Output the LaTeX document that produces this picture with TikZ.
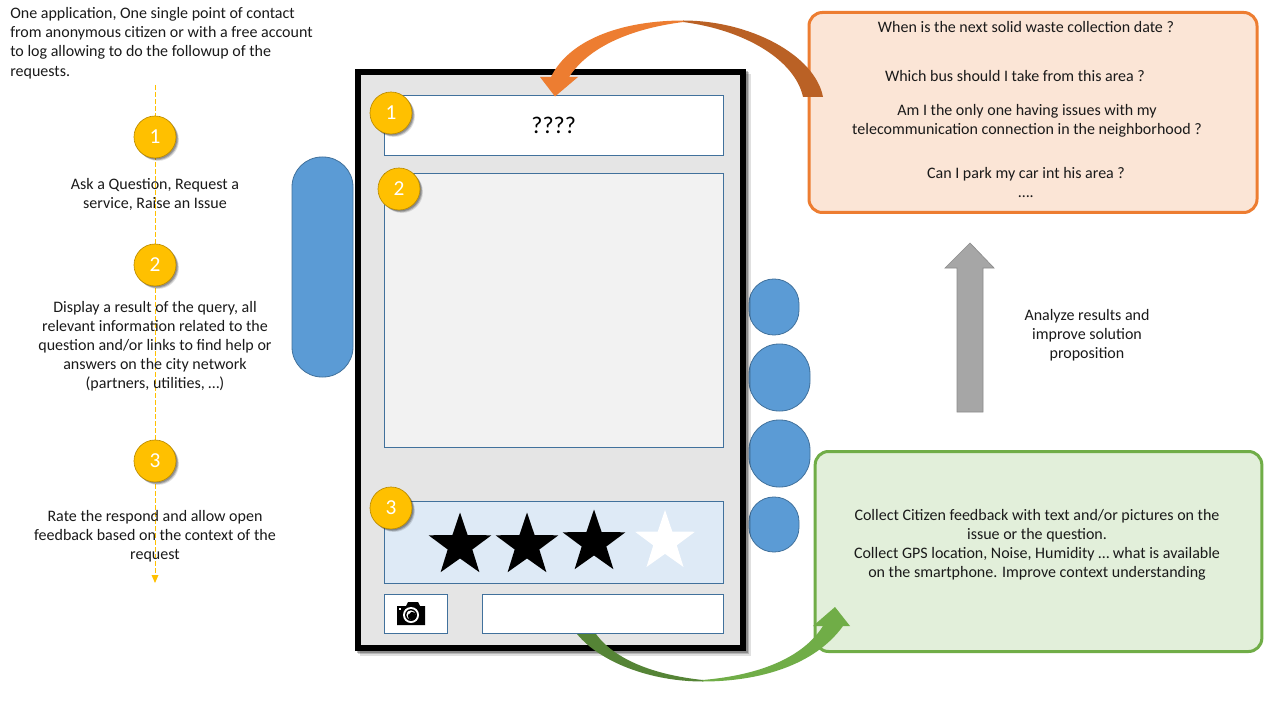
\documentclass[tikz,border=0pt]{standalone}
\usepackage{fontspec}
\setmainfont{Carlito}
\usetikzlibrary{shapes.geometric,shadows,arrows.meta}
\definecolor{orangeline}{HTML}{ED7D31}
\definecolor{orangedark}{HTML}{BA6125}
\definecolor{orangefill}{HTML}{FBE5D6}
\definecolor{greenline}{HTML}{70AD47}
\definecolor{greendark}{HTML}{558436}
\definecolor{greenfill}{HTML}{E2EFDA}
\definecolor{bluefill}{HTML}{5B9BD5}
\definecolor{blueline}{HTML}{41719C}
\definecolor{starbg}{HTML}{DEEAF6}
\definecolor{badge}{HTML}{FFC000}
\definecolor{badgeline}{HTML}{BC8C00}
\definecolor{txt}{HTML}{1A1A1A}
\tikzset{
  softshadow/.style={
    drop shadow={shadow xshift=2.2pt,shadow yshift=-2.2pt,opacity=.12,fill=black},
    drop shadow={shadow xshift=1.6pt,shadow yshift=-1.6pt,opacity=.2,fill=black},
    drop shadow={shadow xshift=1pt,shadow yshift=-1pt,opacity=.2,fill=black}},
  phoneshadow/.style={
    drop shadow={shadow xshift=3.4pt,shadow yshift=-3.4pt,opacity=.12,fill=black},
    drop shadow={shadow xshift=2.6pt,shadow yshift=-2.6pt,opacity=.18,fill=black},
    drop shadow={shadow xshift=1.6pt,shadow yshift=-1.6pt,opacity=.25,fill=black}},
  badgenode/.style={circle,draw=badgeline,line width=.5pt,fill=badge,text=white,minimum size=31.5pt,inner sep=0pt,font=\fontsize{16}{16}\selectfont,softshadow},
  lbl/.style={align=center,text=txt,font=\fontsize{12}{14.25}\selectfont,inner sep=0pt},
  pill/.style={rounded corners=#1,draw=blueline,line width=.6pt,fill=bluefill},
  appbox/.style={draw=blueline,line width=.75pt},
  starshape/.style={star,star points=5,star point ratio=2.55,inner sep=0pt,minimum size=#1*.75pt,fill=black},
}
\begin{document}
\begin{tikzpicture}[x=.75pt,y=-.75pt]
\useasboundingbox (0,0) rectangle (1280,720);
\fill[white] (0,0) rectangle (1280,720);
% dashed timeline
\coordinate (ltop) at (155,85);
\coordinate (lend) at (155,583);
\draw[draw=badge,line width=.6pt,dash pattern=on 3.75pt off 1.5pt] (ltop) -- (155,576);
\fill[badge] (151.5,575) -- (158.5,575) -- (lend) -- cycle;
% left text
\node[lbl,align=left,anchor=north west] (intro) at (10,7.2) {One application, One single point of contact\\from anonymous citizen or with a free account\\to log allowing to do the followup of the\\[.6pt]requests.};
\node[badgenode] (b1) at (155,137) {1};
\node[lbl] (t1) at (155,194.5) {Ask a Question, Request a\\service, Raise an Issue};
\node[badgenode] (b2) at (155,265) {2};
\node[lbl] (t2) at (155,346.5) {Display a result of the query, all\\relevant information related to the\\question and/or links to find help or\\answers on the city network\\(partners, utilities, …)};
\node[badgenode] (b3) at (155,461) {3};
\node[lbl] (t3) at (155,536) {Rate the respond and allow open\\feedback based on the context of the\\request};
% pills
\draw[pill=22.5pt] (292,157) rectangle (353,377);
\draw[pill=18.5pt] (749,279) rectangle (799,335);
\draw[pill=22.5pt] (749,344) rectangle (810,411);
\draw[pill=22.5pt] (749,420) rectangle (810,487);
\draw[pill=18.5pt] (749,497) rectangle (799,552);
% phone
\fill[black,phoneshadow] (355,69) rectangle (746,651);
\fill[black!10] (361,75) rectangle (740,645);
\node[appbox,fill=white,minimum width=254.5pt,minimum height=45pt,inner sep=0pt,font=\fontsize{18}{18}\selectfont] (query) at (553.7,125.8) {????};
\draw[appbox,fill=black!5] (384,174) rectangle (723.5,447);
\draw[appbox,fill=starbg] (384,501.7) rectangle (723.5,583.3);
\draw[appbox,fill=white] (384,594.3) rectangle (447.7,633.3);
\draw[appbox,fill=white] (482,594.3) rectangle (723.5,633.3);
% stars
\node[starshape=66] (s1) at (460,545.5) {};
\node[starshape=66] (s2) at (527,545.5) {};
\node[starshape=66] (s3) at (594,542.5) {};
\node[starshape=63,fill=white] (s4) at (665,541.5) {};
% camera
\fill[black] (397,606) -- (406,606) -- (408,602) -- (418,602) -- (420,606) -- (425,606) -- (425,625) -- (397,625) -- cycle;
\fill[white] (411,615) circle (8);
\fill[black] (411,615) circle (6);
\fill[white] (411,615) circle (4.6);
\fill[black] (412,616) circle (4.2);
\fill[white] (409,612.5) circle (1.6);
\fill[white] (399,607.5) rectangle (401,609.5);
% phone badges
\node[badgenode] (p1) at (391,113) {1};
\node[badgenode] (p2) at (399,189) {2};
\node[badgenode] (p3) at (391,508) {3};
% orange box
\node[draw=orangeline,fill=orangefill,line width=2.25pt,rounded corners=10pt,minimum width=336pt,minimum height=150pt,inner sep=0pt] (qbox) at (1033,112.5) {};
\node[lbl] at (1026,27.5) {When is the next solid waste collection date ?};
\node[lbl] at (1015,76.5) {Which bus should I take from this area ?};
\node[lbl] at (1027,120.5) {Am I the only one having issues with my\\telecommunication connection in the neighborhood ?};
\node[lbl] at (1026,174.5) {Can I park my car int his area ?};
\node[lbl] at (1026,197) {….};
% green box
\node[draw=greenline,fill=greenfill,line width=2.25pt,rounded corners=10pt,minimum width=335pt,minimum height=150pt,inner sep=0pt] (gbox) at (1038.5,551.5) {};
\node[lbl] at (1037,544.5) {Collect Citizen feedback with text and/or pictures on the\\issue or the question.\\Collect GPS location, Noise, Humidity … what is available\\on the smartphone.  Improve context understanding};
% analyse
\node[lbl] at (1087,335.5) {Analyze results and\\improve solution\\proposition};
\draw[draw=black!45,fill=black!35,line width=.5pt] (957,412) -- (957,268) -- (945,268) -- (970,243) -- (994,268) -- (983,268) -- (983,412) -- cycle;
% orange curved arrow
\fill[orangedark] (823,97) .. controls (815,55) and (750,20.5) .. (683,20.5) -- (683,22) .. controls (745,30) and (795,60) .. (803,97) -- cycle;
\fill[orangeline] (683.5,20.5) .. controls (625,20.5) and (570,38) .. (551,77) -- (540,77) -- (555,96.5) -- (578,77) -- (569,77) .. controls (590,45) and (635,28) .. (683.5,22) -- cycle;
% green curved arrow
\fill[greendark] (577,634) .. controls (600,662) and (650,681.5) .. (703,681.5) -- (703,680) .. controls (655,675) and (615,660) .. (596,634) -- cycle;
\fill[greenline] (702.5,681.5) .. controls (760,681.5) and (815,665) .. (843,626) -- (850,626) -- (835,607) -- (813,626) -- (823,626) .. controls (800,662) and (750,676) .. (702.5,680) -- cycle;
\end{tikzpicture}
\end{document}
